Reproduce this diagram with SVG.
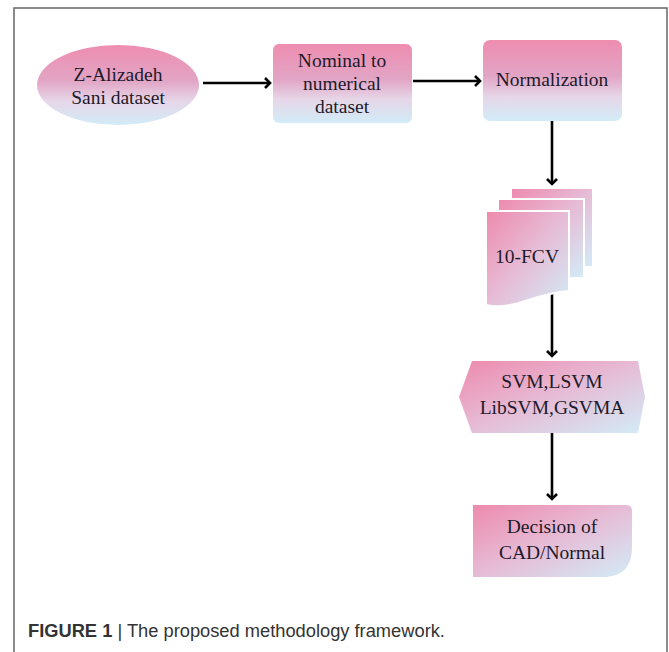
<svg xmlns="http://www.w3.org/2000/svg" width="669" height="652" viewBox="0 0 669 652">
<style>
.lbl{font-family:"Liberation Serif","Times New Roman",serif;font-size:19.5px;fill:#1e1a2a;text-anchor:middle}
.cap{font-family:"Liberation Sans",Arial,sans-serif;font-size:18.3px;fill:#333}
.edge{stroke:#000;stroke-width:2.6;fill:none}
</style>
<defs>
<linearGradient id="gv" x1="0" y1="0" x2="0" y2="1">
<stop offset="0" stop-color="#ee8db0"/>
<stop offset="0.45" stop-color="#e2a5c5"/>
<stop offset="0.7" stop-color="#e6d6e8"/>
<stop offset="1" stop-color="#d2ecf7"/>
</linearGradient>
<linearGradient id="gd" x1="0" y1="0" x2="1" y2="1">
<stop offset="0" stop-color="#ee8aad"/>
<stop offset="0.5" stop-color="#e6bcd6"/>
<stop offset="1" stop-color="#d2ecf7"/>
</linearGradient>
<marker id="ah" markerUnits="userSpaceOnUse" markerWidth="12" markerHeight="14" refX="6" refY="6" orient="auto">
<path d="M1,1 L6,6 L1,11" fill="none" stroke="#000" stroke-width="2.6"/>
</marker>
</defs>
<rect width="669" height="652" fill="#fff"/>
<path d="M14,652 V8 H667 V652" fill="none" stroke="#666" stroke-width="1.5"/>

<g id="connectors">
<line class="edge" x1="203" y1="83" x2="270" y2="83" marker-end="url(#ah)"/>
<line class="edge" x1="413" y1="81" x2="480" y2="81" marker-end="url(#ah)"/>
<line class="edge" x1="552" y1="121" x2="552" y2="184" marker-end="url(#ah)"/>
<line class="edge" x1="552" y1="294" x2="552" y2="356" marker-end="url(#ah)"/>
<line class="edge" x1="552" y1="433" x2="552" y2="499" marker-end="url(#ah)"/>
</g>

<g id="n1">
<ellipse cx="118" cy="85" rx="81" ry="40" fill="url(#gv)"/>
<text class="lbl" x="118" y="81">Z-Alizadeh</text>
<text class="lbl" x="118" y="104">Sani dataset</text>
</g>

<g id="n2">
<rect x="273" y="44" width="139" height="79" rx="6" fill="url(#gv)"/>
<text class="lbl" x="342" y="67">Nominal to</text>
<text class="lbl" x="342" y="90">numerical</text>
<text class="lbl" x="342" y="113">dataset</text>
</g>

<g id="n3">
<rect x="483" y="40" width="139" height="81" rx="7" fill="url(#gv)"/>
<text class="lbl" x="552" y="86">Normalization</text>
</g>

<g id="n4">
<rect x="511" y="188" width="82" height="79" fill="url(#gd)" stroke="#fff" stroke-width="2"/>
<rect x="498" y="199" width="86" height="79" fill="url(#gd)" stroke="#fff" stroke-width="2"/>
<path d="M486,211 H569 V291 C545,293 530,300 515,304 C503,307 494,307 486,305 Z" fill="url(#gd)" stroke="#fff" stroke-width="2"/>
<text class="lbl" x="527" y="263">10-FCV</text>
</g>

<g id="n5">
<polygon points="459,397 472,361 638,361 645,397 638,433 472,433" fill="url(#gd)"/>
<text class="lbl" x="552" y="388">SVM,LSVM</text>
<text class="lbl" x="552" y="414">LibSVM,GSVMA</text>
</g>

<g id="n6">
<path d="M473,505 H626 Q632,505 632,511 V547 C632,568 621,577 603,577 H473 Z" fill="url(#gd)"/>
<text class="lbl" x="552" y="533">Decision of</text>
<text class="lbl" x="552" y="559">CAD/Normal</text>
</g>

<text class="cap" x="28" y="637"><tspan font-weight="bold">FIGURE 1</tspan> | The proposed methodology framework.</text>
</svg>
